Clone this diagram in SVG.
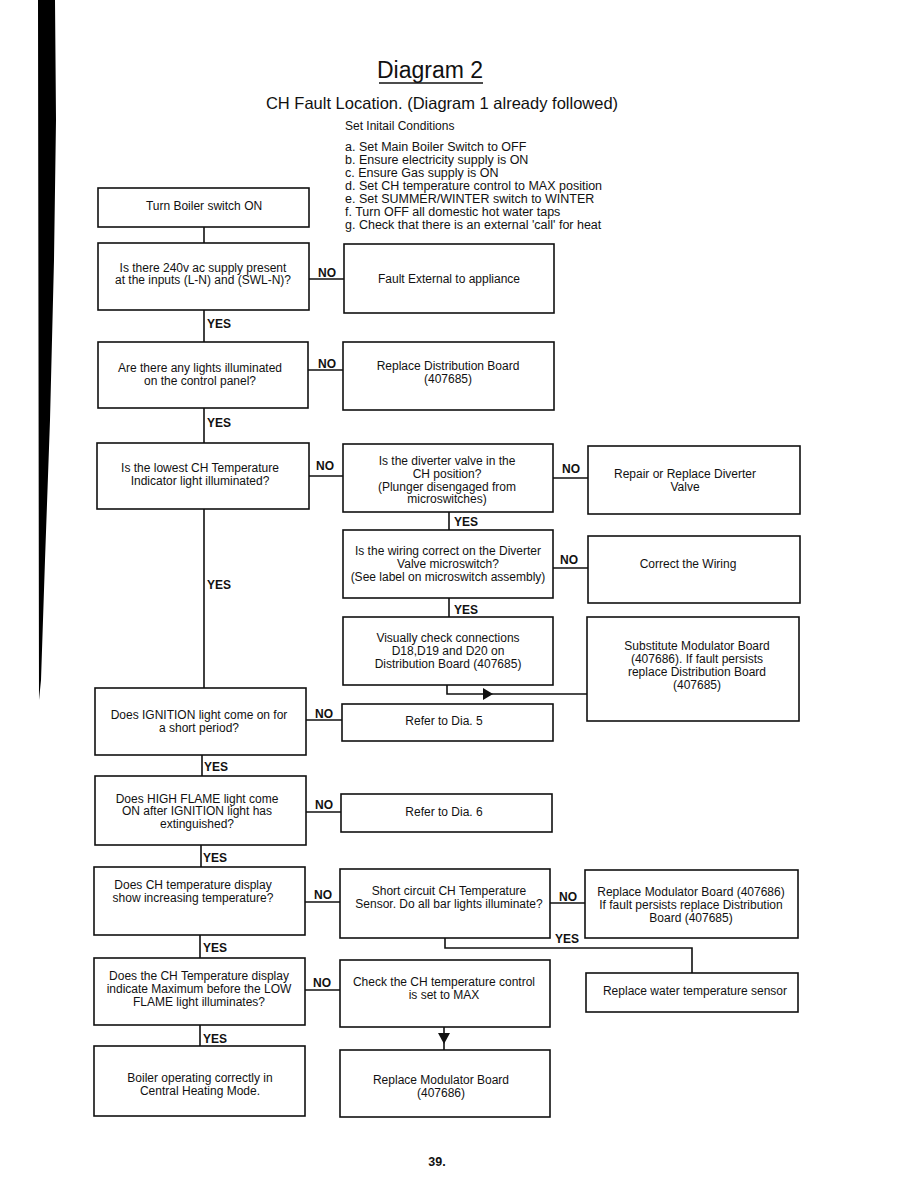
<svg xmlns="http://www.w3.org/2000/svg" width="918" height="1188" viewBox="0 0 918 1188">
<style>
.box{fill:#fff;stroke:#111;stroke-width:1.6}
.ln{fill:none;stroke:#111;stroke-width:1.6}
.t{font-family:"Liberation Sans",Arial,sans-serif;font-size:12px;fill:#111;text-anchor:middle}
.lb{font-family:"Liberation Sans",Arial,sans-serif;font-size:12px;font-weight:bold;fill:#111}
.hd{font-family:"Liberation Sans",Arial,sans-serif;fill:#111}
</style>
<rect width="918" height="1188" fill="#fff"/>
<path d="M38 0 H55 L56 120 L54 260 L50 420 L45 560 L41 680 L39 700 Z" fill="#000"/>
<g id="header">
<text class="hd" x="430" y="78" font-size="23" text-anchor="middle">Diagram 2</text>
<line x1="379" y1="83" x2="483" y2="83" stroke="#111" stroke-width="1.6"/>
<text class="hd" x="442" y="109" font-size="16.5" text-anchor="middle">CH Fault Location. (Diagram 1 already followed)</text>
<text class="hd" x="345" y="130" font-size="12">Set Initail Conditions</text>
<text class="hd" font-size="12.5"><tspan x="345" y="151">a. Set Main Boiler Switch to OFF</tspan><tspan x="345" y="164">b. Ensure electricity supply is ON</tspan><tspan x="345" y="177">c. Ensure Gas supply is ON</tspan><tspan x="345" y="190">d. Set CH temperature control to MAX position</tspan><tspan x="345" y="203">e. Set SUMMER/WINTER switch to WINTER</tspan><tspan x="345" y="216">f. Turn OFF all domestic hot water taps</tspan><tspan x="345" y="229">g. Check that there is an external 'call' for heat</tspan></text>
</g>
<g id="connectors">
<path class="ln" d="M204 227 V243"/>
<path class="ln" d="M309 279 H344"/>
<path class="ln" d="M204 310 V342"/>
<path class="ln" d="M308 370 H343"/>
<path class="ln" d="M204 408 V443"/>
<path class="ln" d="M309 476 H343"/>
<path class="ln" d="M553 478 H588"/>
<path class="ln" d="M449 512 V530"/>
<path class="ln" d="M553 568 H588"/>
<path class="ln" d="M449 598 V617"/>
<path class="ln" d="M447 685 V694 H587"/>
<polygon points="483,688 493,694 483,700" fill="#111"/>
<path class="ln" d="M204 509 V688"/>
<path class="ln" d="M306 720 H342"/>
<path class="ln" d="M202 755 V776"/>
<path class="ln" d="M306 812 H341"/>
<path class="ln" d="M201 845 V867"/>
<path class="ln" d="M305 902 H340"/>
<path class="ln" d="M550 903 H585"/>
<path class="ln" d="M445 938 V948 H692 V973"/>
<path class="ln" d="M200 935 V958"/>
<path class="ln" d="M305 990 H340"/>
<path class="ln" d="M444 1027 V1050"/>
<polygon points="438,1033 450,1033 444,1044" fill="#111"/>
<path class="ln" d="M200 1025 V1046"/>
<text class="lb" x="318" y="277">NO</text>
<text class="lb" x="207" y="328">YES</text>
<text class="lb" x="318" y="368">NO</text>
<text class="lb" x="207" y="427">YES</text>
<text class="lb" x="316" y="470">NO</text>
<text class="lb" x="562" y="473">NO</text>
<text class="lb" x="454" y="526">YES</text>
<text class="lb" x="560" y="564">NO</text>
<text class="lb" x="454" y="614">YES</text>
<text class="lb" x="207" y="589">YES</text>
<text class="lb" x="315" y="718">NO</text>
<text class="lb" x="204" y="771">YES</text>
<text class="lb" x="315" y="809">NO</text>
<text class="lb" x="203" y="862">YES</text>
<text class="lb" x="314" y="899">NO</text>
<text class="lb" x="559" y="901">NO</text>
<text class="lb" x="555" y="943">YES</text>
<text class="lb" x="203" y="952">YES</text>
<text class="lb" x="313" y="987">NO</text>
<text class="lb" x="203" y="1043">YES</text>
</g>
<g id="n1"><rect class="box" x="98" y="188" width="211" height="39"/><text class="t" x="204" y="210">Turn Boiler switch ON</text></g>
<g id="n2"><rect class="box" x="98" y="243" width="211" height="67"/><text class="t"><tspan x="203" y="272">Is there 240v ac supply present</tspan><tspan x="203" y="284">at the inputs (L-N) and (SWL-N)?</tspan></text></g>
<g id="n3"><rect class="box" x="344" y="244" width="210" height="69"/><text class="t" x="449" y="283">Fault External to appliance</text></g>
<g id="n4"><rect class="box" x="98" y="342" width="210" height="66"/><text class="t"><tspan x="200" y="372">Are there any lights illuminated</tspan><tspan x="200" y="385">on the control panel?</tspan></text></g>
<g id="n5"><rect class="box" x="343" y="342" width="211" height="68"/><text class="t"><tspan x="448" y="370">Replace Distribution Board</tspan><tspan x="448" y="383">(407685)</tspan></text></g>
<g id="n6"><rect class="box" x="97" y="443" width="212" height="66"/><text class="t"><tspan x="200" y="472">Is the lowest CH Temperature</tspan><tspan x="200" y="485">Indicator light illuminated?</tspan></text></g>
<g id="n7"><rect class="box" x="343" y="444" width="210" height="68"/><text class="t"><tspan x="447" y="465">Is the diverter valve in the</tspan><tspan x="447" y="478">CH position?</tspan><tspan x="447" y="491">(Plunger disengaged from</tspan><tspan x="447" y="503">microswitches)</tspan></text></g>
<g id="n8"><rect class="box" x="588" y="446" width="212" height="68"/><text class="t"><tspan x="685" y="478">Repair or Replace Diverter</tspan><tspan x="685" y="491">Valve</tspan></text></g>
<g id="n9"><rect class="box" x="343" y="530" width="210" height="68"/><text class="t"><tspan x="448" y="555">Is the wiring correct on the Diverter</tspan><tspan x="448" y="568">Valve microswitch?</tspan><tspan x="448" y="581">(See label on microswitch assembly)</tspan></text></g>
<g id="n10"><rect class="box" x="588" y="536" width="212" height="67"/><text class="t" x="688" y="568">Correct the Wiring</text></g>
<g id="n11"><rect class="box" x="343" y="617" width="210" height="68"/><text class="t"><tspan x="448" y="642">Visually check connections</tspan><tspan x="448" y="655">D18,D19 and D20 on</tspan><tspan x="448" y="668">Distribution Board (407685)</tspan></text></g>
<g id="n12"><rect class="box" x="587" y="617" width="212" height="104"/><text class="t"><tspan x="697" y="650">Substitute Modulator Board</tspan><tspan x="697" y="663">(407686). If fault persists</tspan><tspan x="697" y="676">replace Distribution Board</tspan><tspan x="697" y="689">(407685)</tspan></text></g>
<g id="n13"><rect class="box" x="95" y="688" width="211" height="67"/><text class="t"><tspan x="199" y="719">Does IGNITION light come on for</tspan><tspan x="199" y="732">a short period?</tspan></text></g>
<g id="n14"><rect class="box" x="342" y="704" width="211" height="37"/><text class="t" x="444" y="725">Refer to Dia. 5</text></g>
<g id="n15"><rect class="box" x="95" y="776" width="211" height="69"/><text class="t"><tspan x="197" y="803">Does HIGH FLAME light come</tspan><tspan x="197" y="815">ON after IGNITION light has</tspan><tspan x="197" y="828">extinguished?</tspan></text></g>
<g id="n16"><rect class="box" x="341" y="794" width="211" height="38"/><text class="t" x="444" y="816">Refer to Dia. 6</text></g>
<g id="n17"><rect class="box" x="94" y="867" width="211" height="68"/><text class="t"><tspan x="193" y="889">Does CH temperature display</tspan><tspan x="193" y="902">show increasing temperature?</tspan></text></g>
<g id="n18"><rect class="box" x="340" y="869" width="210" height="69"/><text class="t"><tspan x="449" y="895">Short circuit CH Temperature</tspan><tspan x="449" y="908">Sensor. Do all bar lights illuminate?</tspan></text></g>
<g id="n19"><rect class="box" x="585" y="870" width="213" height="68"/><text class="t"><tspan x="691" y="896">Replace Modulator Board (407686)</tspan><tspan x="691" y="909">If fault persists replace Distribution</tspan><tspan x="691" y="922">Board (407685)</tspan></text></g>
<g id="n20"><rect class="box" x="586" y="973" width="212" height="39"/><text class="t" x="695" y="995">Replace water temperature sensor</text></g>
<g id="n21"><rect class="box" x="94" y="958" width="211" height="67"/><text class="t"><tspan x="199" y="980">Does the CH Temperature display</tspan><tspan x="199" y="993">indicate Maximum before the LOW</tspan><tspan x="199" y="1006">FLAME light illuminates?</tspan></text></g>
<g id="n22"><rect class="box" x="340" y="960" width="210" height="67"/><text class="t"><tspan x="444" y="986">Check the CH temperature control</tspan><tspan x="444" y="999">is set to MAX</tspan></text></g>
<g id="n23"><rect class="box" x="340" y="1050" width="210" height="67"/><text class="t"><tspan x="441" y="1084">Replace Modulator Board</tspan><tspan x="441" y="1097">(407686)</tspan></text></g>
<g id="n24"><rect class="box" x="94" y="1046" width="211" height="70"/><text class="t"><tspan x="200" y="1082">Boiler operating correctly in</tspan><tspan x="200" y="1095">Central Heating Mode.</tspan></text></g>
<text class="hd" x="437" y="1166" font-size="12.5" font-weight="bold" text-anchor="middle">39.</text>
</svg>
